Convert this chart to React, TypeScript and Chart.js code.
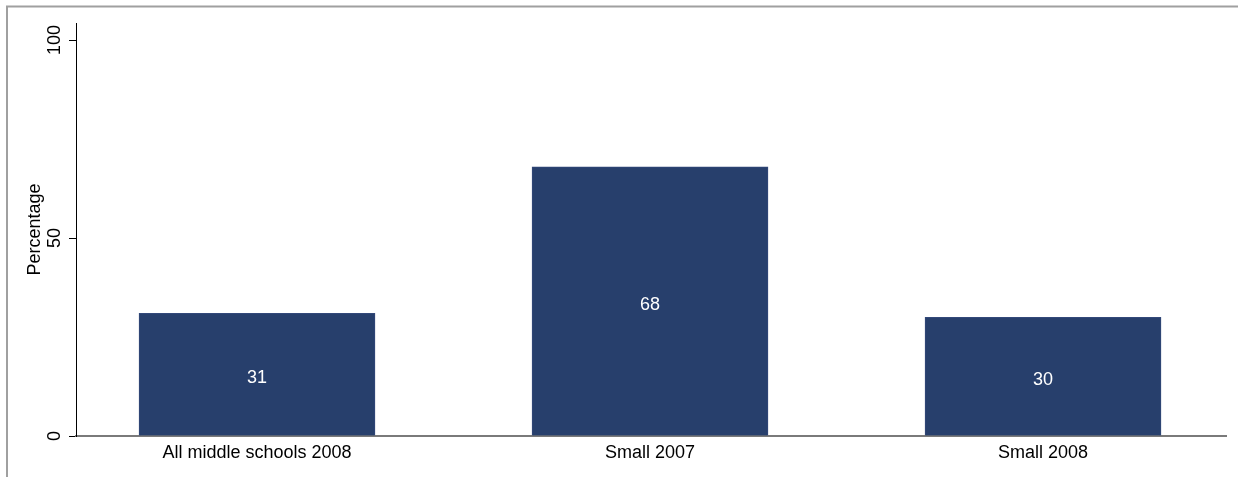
import React, { useEffect, useRef } from "react";
import { Chart, registerables } from "chart.js";

Chart.register(...registerables);

const categories = ["All middle schools 2008", "Small 2007", "Small 2008"];
const values = [31, 68, 30];
const yTicks = [0, 50, 100];
const yTitle = "Percentage";

const FONT = "'Liberation Sans', Arial, Helvetica, sans-serif";
const BAR = "#273f6c";

const textPlugin = {
  id: "stataText",
  beforeDraw(chart: any) {
    const ctx = chart.ctx;
    ctx.save();
    ctx.fillStyle = "#ffffff";
    ctx.fillRect(0, 0, chart.width, chart.height);
    ctx.strokeStyle = "#a0a0a0";
    ctx.lineWidth = 2;
    ctx.beginPath();
    ctx.moveTo(7, chart.height);
    ctx.lineTo(7, 6.5);
    ctx.lineTo(chart.width, 6.5);
    ctx.stroke();
    ctx.restore();
  },
  afterDatasetsDraw(chart: any) {
    const ctx = chart.ctx;
    const meta = chart.getDatasetMeta(0);
    ctx.save();
    ctx.fillStyle = "#ffffff";
    ctx.font = `18px ${FONT}`;
    ctx.textAlign = "center";
    ctx.textBaseline = "middle";
    meta.data.forEach((el: any, i: number) => {
      const y = (el.y + el.base) / 2 + 3.5;
      ctx.fillText(String(values[i]), el.x, y);
    });
    ctx.restore();
  },
  afterDraw(chart: any) {
    const ctx = chart.ctx;
    const ys = chart.scales.y;
    ctx.save();
    ctx.fillStyle = "#000000";
    ctx.textAlign = "center";
    ctx.textBaseline = "alphabetic";
    ctx.font = `18px ${FONT}`;
    yTicks.forEach((v) => {
      const py = ys.getPixelForValue(v);
      ctx.save();
      ctx.translate(60, py);
      ctx.rotate(-Math.PI / 2);
      ctx.fillText(String(v), 0, 0);
      ctx.restore();
    });
    const cy = (ys.top + ys.bottom) / 2;
    ctx.save();
    ctx.translate(40, cy);
    ctx.rotate(-Math.PI / 2);
    ctx.fillText(yTitle, 0, 0);
    ctx.restore();
    ctx.restore();
  },
};

export default function App() {
  const ref = useRef<HTMLCanvasElement | null>(null);
  useEffect(() => {
    if (!ref.current) return;
    const chart = new Chart(ref.current, {
      type: "bar",
      data: {
        datasets: [
          {
            data: values.map((v, i) => ({ x: i + 1, y: v })),
            backgroundColor: BAR,
            borderColor: "#33497a",
            borderWidth: 1,
            barThickness: 236,
          },
        ],
      },
      options: {
        animation: false,
        responsive: false,
        maintainAspectRatio: false,
        layout: { padding: { top: 23, right: 12, left: 0, bottom: 0 } },
        plugins: { legend: { display: false }, tooltip: { enabled: false } },
        scales: {
          x: {
            type: "linear",
            offset: false,
            min: 0.5394,
            max: 3.4656,
            afterBuildTicks: (s: any) => {
              s.ticks = categories.map((_, i) => ({ value: i + 1 }));
            },
            afterFit: (s: any) => {
              s.height = 41;
            },
            ticks: {
              callback: (v: any) => categories[Math.round(Number(v)) - 1] ?? "",
              color: "#000",
              font: { family: FONT, size: 18 },
              padding: 6,
              maxRotation: 0,
              minRotation: 0,
              autoSkip: false,
            },
            grid: { display: false, drawTicks: false, offset: false },
            border: { display: true, color: "#7a7a7a", width: 2 },
          },
          y: {
            type: "linear",
            min: 0,
            max: 104.3,
            afterBuildTicks: (s: any) => {
              s.ticks = yTicks.map((v) => ({ value: v }));
            },
            afterFit: (s: any) => {
              s.width = 76;
            },
            ticks: { display: false },
            grid: {
              display: true,
              drawOnChartArea: false,
              drawTicks: true,
              tickLength: 7,
              color: "#000",
              lineWidth: 1,
            },
            border: { display: true, color: "#000", width: 1 },
          },
        },
      },
      plugins: [textPlugin],
    });
    return () => chart.destroy();
  }, []);
  return (
    <div style={{ position: "fixed", left: 0, top: 0, width: 1238, height: 477 }}>
      <canvas ref={ref} width={1238} height={477} style={{ width: 1238, height: 477 }} />
    </div>
  );
}
